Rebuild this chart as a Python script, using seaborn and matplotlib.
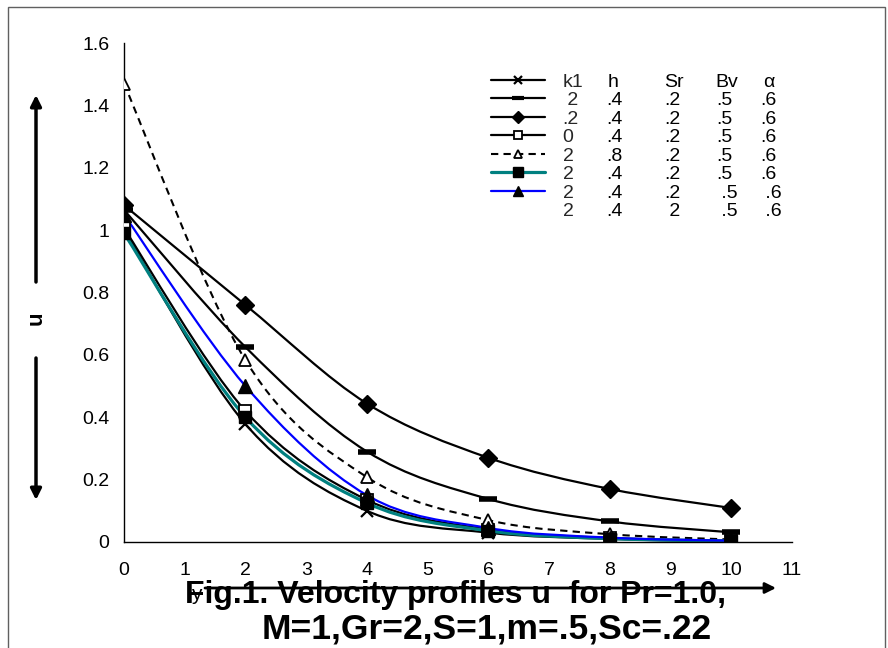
import numpy as np
import pandas as pd
import matplotlib
matplotlib.use("Agg")
import matplotlib.pyplot as plt
import seaborn as sns
from matplotlib.path import Path
from matplotlib.patches import PathPatch, Rectangle, FancyArrowPatch
from matplotlib.lines import Line2D

# ---------------- data ----------------
eta = [0, 2, 4, 6, 8, 10]
u_cross   = [1.000, 0.378, 0.100, 0.030, 0.010, 0.002]
u_dash    = [1.065, 0.625, 0.290, 0.138, 0.066, 0.031]
u_diamond = [1.080, 0.760, 0.444, 0.270, 0.170, 0.109]
u_opensq  = [1.006, 0.420, 0.135, 0.040, 0.013, 0.004]
u_opentri = [1.470, 0.583, 0.208, 0.070, 0.025, 0.008]
u_teal    = [0.990, 0.400, 0.125, 0.036, 0.011, 0.003]
u_blue    = [1.050, 0.500, 0.150, 0.045, 0.014, 0.004]

legend_header = ["k1", "h", "Sr", "Bv", "α"]
legend_rows = [
    [" 2", ".4", ".2", ".5", ".6"],
    [".2", ".4", ".2", ".5", ".6"],
    ["0", ".4", ".2", ".5", ".6"],
    ["2", ".8", ".2", ".5", ".6"],
    ["2", ".4", ".2", ".5", ".6"],
    ["2", ".4", ".2", " .5", " .6"],
    ["2", ".4", " 2", " .5", " .6"],
]
x_ticks = list(range(0, 12))
y_ticks = [0, 0.2, 0.4, 0.6, 0.8, 1.0, 1.2, 1.4, 1.6]
y_tick_labels = ["0", "0.2", "0.4", "0.6", "0.8", "1", "1.2", "1.4", "1.6"]
title_line1 = "Fig.1. Velocity profiles u  for Pr=1.0,"
title_line2 = "M=1,Gr=2,S=1,m=.5,Sc=.22"

# ---------------- styling ----------------
sns.set_theme(style="white")
plt.rcParams["font.family"] = ["Liberation Sans", "DejaVu Sans"]

W, H, DPI = 888, 648, 100
FS = 14
fig = plt.figure(figsize=(W / DPI, H / DPI), dpi=DPI)
ax = fig.add_axes([124 / W, 1 - 542 / H, (792 - 124) / W, (542 - 43) / H])

series = [
    dict(y=u_cross, color="black", lw=1.6, ls="-", marker="x", ms=9, mfc="black", mec="black", mew=1.6, lms=6),
    dict(y=u_dash, color="black", lw=1.6, ls="-", marker="_", ms=13, mfc="black", mec="black", mew=4, lms=9),
    dict(y=u_diamond, color="black", lw=1.6, ls="-", marker="D", ms=9, mfc="black", mec="black", mew=1, lms=6),
    dict(y=u_opensq, color="black", lw=1.6, ls="-", marker="s", ms=8, mfc="white", mec="black", mew=1.3, lms=6),
    dict(y=u_opentri, color="black", lw=1.5, ls=(0, (3.5, 2.5)), marker="^", ms=8, mfc="white", mec="black", mew=1.3, lms=6),
    dict(y=u_teal, color="#008080", lw=2.3, ls="-", marker="s", ms=9, mfc="black", mec="black", mew=1, lms=7),
    dict(y=u_blue, color="#0000ff", lw=1.6, ls="-", marker="^", ms=10, mfc="black", mec="black", mew=1, lms=7),
]


def smooth_path(xs, ys, t=1.0 / 6.0):
    """Excel-like smoothed line: cubic Bezier through the data points."""
    P = np.column_stack([xs, ys]).astype(float)
    n = len(P)
    verts = [P[0]]
    codes = [Path.MOVETO]
    for i in range(n - 1):
        p0 = P[i - 1] if i > 0 else P[i]
        p1, p2 = P[i], P[i + 1]
        p3 = P[i + 2] if i + 2 < n else P[i + 1]
        c1 = p1 + (p2 - p0) * t
        c2 = p2 - (p3 - p1) * t
        verts += [c1, c2, p2]
        codes += [Path.CURVE4] * 3
    return Path(verts, codes)


handles = []
for s in series:
    patch = PathPatch(smooth_path(eta, s["y"]), fill=False, edgecolor=s["color"],
                      lw=s["lw"], linestyle=s["ls"], zorder=2, capstyle="butt")
    ax.add_patch(patch)
    df = pd.DataFrame({"eta": eta, "u": s["y"]})
    sns.lineplot(data=df, x="eta", y="u", ax=ax, linestyle="none", marker=s["marker"],
                 markersize=s["ms"], markerfacecolor=s["mfc"], markeredgecolor=s["mec"],
                 markeredgewidth=s["mew"], color=s["color"], zorder=3, legend=False)
    handles.append(Line2D([], [], color=s["color"], lw=s["lw"], linestyle=s["ls"],
                          marker=s["marker"], markersize=s["lms"], markerfacecolor=s["mfc"],
                          markeredgecolor=s["mec"], markeredgewidth=min(s["mew"], 3)))
handles.append(Line2D([], [], linestyle="none", marker=None))

labels = [legend_header[0]] + [r[0] for r in legend_rows]

ax.set_xlim(0, 11)
ax.set_ylim(0, 1.6)
ax.set_xticks(x_ticks)
ax.set_xticklabels([str(v) for v in x_ticks])
ax.set_yticks(y_ticks)
ax.set_yticklabels(y_tick_labels)
ax.set_xlabel("")
ax.set_ylabel("")
for side in ["top", "right"]:
    ax.spines[side].set_visible(False)
for side in ["left", "bottom"]:
    ax.spines[side].set_color("black")
    ax.spines[side].set_linewidth(1.0)
ax.tick_params(axis="both", direction="inout", length=9, width=1.0, colors="black",
               labelsize=FS, labelcolor="black")
ax.tick_params(axis="y", pad=6)
ax.tick_params(axis="x", pad=10)
ax.patch.set_alpha(0)

fs_px = FS * DPI / 72.0
leg = ax.legend(handles, labels, loc="upper left",
                bbox_to_anchor=(491 / W, 1 - 73 / H), bbox_transform=fig.transFigure,
                frameon=False, fontsize=FS, handlelength=54 / fs_px, handletextpad=0.9,
                borderpad=0, borderaxespad=0, labelspacing=0.045, numpoints=1)

# other legend columns aligned to the legend rows
fig.canvas.draw()
renderer = fig.canvas.get_renderer()
col_x = [606, 664, 716, 760]
header_x = [608, 664, 715, 763]
table = [legend_header] + legend_rows
for r, txt in enumerate(leg.get_texts()):
    bb = txt.get_window_extent(renderer)
    yc = (bb.y0 + bb.y1) / 2
    for c in range(1, 5):
        xp = header_x[c - 1] if r == 0 else col_x[c - 1]
        fig.text(xp / W, yc / H, table[r][c], ha="left", va="center",
                 fontsize=FS, color="black")

# axis arrows and labels (figure pixels)
arrow_kw = dict(arrowstyle="-|>", color="black", lw=2.5, mutation_scale=16, shrinkA=0, shrinkB=0)
fig.add_artist(FancyArrowPatch((36 / W, 1 - 282 / H), (36 / W, 1 - 95 / H),
                               transform=fig.transFigure, **arrow_kw))
fig.add_artist(FancyArrowPatch((36 / W, 1 - 358 / H), (36 / W, 1 - 500 / H),
                               transform=fig.transFigure, **arrow_kw))
fig.text(36 / W, 1 - 318 / H, "u", rotation=90, ha="center", va="center",
         fontsize=16, fontweight="bold", color="black")

fig.text(196 / W, 1 - 600 / H, "y", ha="center", va="baseline", fontsize=15, color="black")
xarrow_kw = dict(arrowstyle="-|>", color="black", lw=2.0, mutation_scale=16, shrinkA=0, shrinkB=0)
fig.add_artist(FancyArrowPatch((205 / W, 1 - 588 / H), (776 / W, 1 - 588 / H),
                               transform=fig.transFigure, **xarrow_kw))

fig.text(455 / W, 1 - 603 / H, title_line1, ha="center", va="baseline",
         fontsize=23, fontweight="bold", color="black")
fig.text(487 / W, 1 - 639 / H, title_line2, ha="center", va="baseline",
         fontsize=25.5, fontweight="bold", color="black")

# outer frame
fig.add_artist(Rectangle((8 / W, -0.05), 877 / W, (H - 7) / H + 0.05, transform=fig.transFigure,
                         fill=False, edgecolor="#606060", lw=1.0))

fig.savefig("out.png", dpi=DPI)
